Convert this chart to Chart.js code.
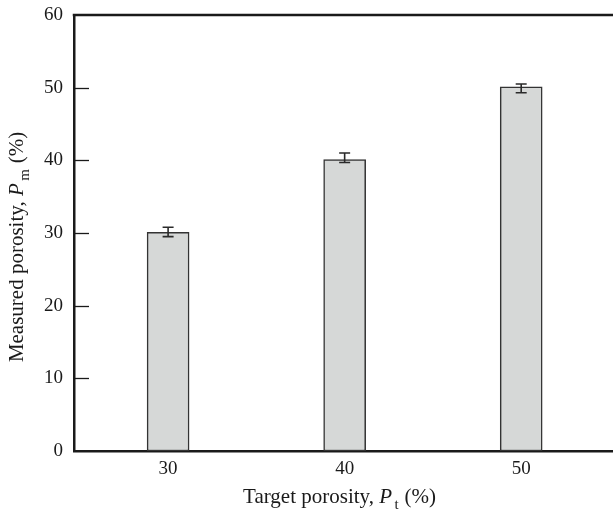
<!DOCTYPE html>
<html><head><meta charset="utf-8">
<script src="https://cdn.jsdelivr.net/npm/chart.js@4.4.0/dist/chart.umd.min.js"></script>
<style>html,body{margin:0;padding:0;background:#fff;overflow:hidden}#wrap{width:613px;height:514px}</style>
</head><body><div id="wrap"><canvas id="c" width="613" height="514"></canvas></div>
<script>
const categories = [30, 40, 50];
const measured = [30.1, 40.1, 50.1];
const errLower = [29.5, 39.7, 49.3];
const errUpper = [30.8, 41.0, 50.5];
const yTicks = [0, 10, 20, 30, 40, 50, 60];
const xTitleParts = [["Target porosity, ", "n"], ["P", "i"], ["t", "s"], [" (%)", "n"]];
const yTitleParts = [["Measured porosity, ", "n"], ["P", "i"], ["m", "s"], [" (%)", "n"]];

const FAM = '"Liberation Serif", "Times New Roman", serif';
const TITLE_SIZE = 21;

function fontFor(kind) {
  if (kind === "i") return "italic " + TITLE_SIZE + "px " + FAM;
  if (kind === "s") return (TITLE_SIZE - 6) + "px " + FAM;
  return TITLE_SIZE + "px " + FAM;
}
function drawRich(ctx, parts, cx, baseline) {
  let total = 0;
  const widths = parts.map(p => { ctx.font = fontFor(p[1]); const w = ctx.measureText(p[0]).width + (p[1] === "s" ? 3 : 0); total += w; return w; });
  let x = cx - total / 2;
  ctx.textBaseline = "alphabetic";
  ctx.textAlign = "left";
  parts.forEach((p, i) => {
    ctx.font = fontFor(p[1]);
    const dy = p[1] === "s" ? 6 : 0;
    ctx.fillText(p[0], x + (p[1] === "s" ? 2.5 : 0), baseline + dy);
    x += widths[i];
  });
}

const framePlugin = {
  id: "frame",
  afterDatasetsDraw(chart) {
    const ctx = chart.ctx, xs = chart.scales.x, ys = chart.scales.y;
    ctx.save();
    ctx.strokeStyle = "#2a2a2a";
    ctx.lineWidth = 1.6;
    categories.forEach((c, i) => {
      const px = xs.getPixelForValue(c);
      const yl = ys.getPixelForValue(errLower[i]);
      const yu = ys.getPixelForValue(errUpper[i]);
      ctx.beginPath();
      ctx.moveTo(px, yl); ctx.lineTo(px, yu);
      ctx.moveTo(px - 5.5, yl); ctx.lineTo(px + 5.5, yl);
      ctx.moveTo(px - 5.5, yu); ctx.lineTo(px + 5.5, yu);
      ctx.stroke();
    });
    ctx.restore();
  },
  afterDraw(chart) {
    const ctx = chart.ctx, a = chart.chartArea, ys = chart.scales.y;
    ctx.save();
    ctx.strokeStyle = "#1a1a1a";
    ctx.lineWidth = 2.5;
    ctx.beginPath();
    ctx.moveTo(a.left - 1.25, a.top);
    ctx.lineTo(a.right, a.top);
    ctx.stroke();
    ctx.lineWidth = 1.3;
    yTicks.forEach(v => {
      if (v <= ys.min || v >= ys.max) return;
      const py = Math.round(ys.getPixelForValue(v)) + 0.5;
      ctx.beginPath();
      ctx.moveTo(a.left, py); ctx.lineTo(a.left + 15, py);
      ctx.stroke();
    });
    ctx.fillStyle = "#1a1a1a";
    drawRich(ctx, xTitleParts, (a.left + a.right) / 2 - 4, 503);
    ctx.translate(23, (a.top + a.bottom) / 2 + 14);
    ctx.rotate(-Math.PI / 2);
    drawRich(ctx, yTitleParts, 0, 0);
    ctx.restore();
  }
};

new Chart(document.getElementById("c"), {
  type: "bar",
  data: {
    datasets: [{
      data: categories.map((c, i) => ({ x: c, y: measured[i] })),
      backgroundColor: "#d6d8d7",
      borderColor: "#333333",
      borderWidth: 1.5,
      borderSkipped: false,
      barThickness: 42
    }]
  },
  options: {
    responsive: false,
    devicePixelRatio: 1,
    animation: false,
    layout: { padding: { top: 15, right: 0, left: 0, bottom: 0 } },
    plugins: { legend: { display: false }, tooltip: { enabled: false } },
    scales: {
      x: {
        type: "linear",
        offset: false,
        min: 24.67,
        max: 55.2,
        afterBuildTicks(s) { s.ticks = categories.map(v => ({ value: v })); },
        afterFit(s) { s.height = 63; s.paddingLeft = 0; s.paddingRight = 0; },
        grid: { display: false, drawTicks: false, offset: false },
        border: { display: true, color: "#1a1a1a", width: 2.5 },
        ticks: { padding: 7, color: "#1a1a1a", font: { family: FAM, size: 19 }, callback: v => String(v) }
      },
      y: {
        min: 0,
        max: 60,
        afterBuildTicks(s) { s.ticks = yTicks.map(v => ({ value: v })); },
        afterFit(s) { s.width = 74; s.paddingTop = 0; s.paddingBottom = 0; },
        grid: { display: false, drawTicks: false },
        border: { display: true, color: "#1a1a1a", width: 2.5 },
        ticks: { padding: 11, color: "#1a1a1a", font: { family: FAM, size: 19 } }
      }
    }
  },
  plugins: [framePlugin]
});
</script>
</body></html>
